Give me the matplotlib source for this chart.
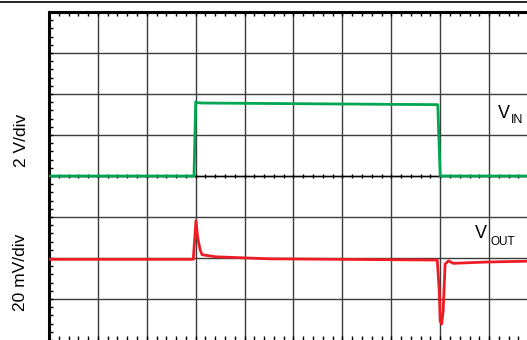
import matplotlib
matplotlib.use('agg')
import matplotlib.pyplot as plt
from matplotlib.lines import Line2D
import numpy as np

plt.rcParams['font.family'] = ['Liberation Sans', 'DejaVu Sans']

# time and level in scope divisions
vin_t = [0.0, 2.965, 3.0, 3.03, 3.12, 7.95, 8.0, 10.5]
vin_v = [4.0, 4.0, 5.81, 5.79, 5.78, 5.74, 4.0, 4.0]

vout_t = [0.0, 2.95, 3.006, 3.04, 3.09, 3.13, 3.4, 4.5, 7.94,
          7.98, 8.0, 8.03, 8.06, 8.1, 8.17, 8.27, 8.9, 10.5]
vout_v = [1.968, 1.968, 2.91, 2.5, 2.2, 2.08, 2.03, 1.98, 1.95,
          1.2, 0.45, 0.39, 0.7, 1.85, 1.93, 1.87, 1.90, 1.94]

W, H = 527, 340
fig = plt.figure(figsize=(W / 100, H / 100), dpi=100)
ax = fig.add_axes([49 / W, 0, 489 / W, 328 / H])
ax.set_xlim(0, 10)
ax.set_ylim(0, 8)

# grid
for x in range(1, 10):
    ax.axvline(x, color='#3c3c3c', lw=1.0, zorder=1)
for y in range(1, 8):
    ax.axhline(y, color='#3c3c3c', lw=1.0, zorder=1)

# ticks on border
ax.set_xticks(range(0, 11))
ax.set_yticks(range(0, 9))
ax.set_xticks(np.arange(0, 10.01, 0.2), minor=True)
ax.set_yticks(np.arange(0, 8.01, 0.2), minor=True)
ax.tick_params(which='both', direction='in', top=True, bottom=True,
               left=True, right=False, labelbottom=False, labelleft=False,
               length=3.2, width=1.0, color='black')
for s in ['right', 'bottom']:
    ax.spines[s].set_visible(False)
for s in ['left', 'top']:
    ax.spines[s].set_linewidth(2.2)

# center axis ticks
cx = np.arange(0, 10.01, 0.2)
ax.vlines(cx, 4 - 0.06, 4 + 0.06, color='black', lw=1.0, zorder=2)
ax.axhline(4, color='black', lw=1.0, zorder=2)

ax.plot(vin_t, vin_v, color='#00a650', lw=2.0, zorder=3)
ax.plot(vout_t, vout_v, color='#ee1c25', lw=2.0, zorder=3)

# channel labels
ax.text(9.18, 5.415, 'V', fontsize=13, va='baseline', ha='left')
ax.text(9.44, 5.29, 'IN', fontsize=9, va='baseline', ha='left')
ax.text(8.71, 2.488, 'V', fontsize=13, va='baseline', ha='left')
ax.text(9.03, 2.317, 'OUT', fontsize=8.5, va='baseline', ha='left')

fig.text(21 / W, 1 - 140 / H, '2 V/div', rotation=90, fontsize=12.5,
         ha='center', va='center')
fig.text(21 / W, 1 - 272 / H, '20 mV/div', rotation=90, fontsize=12.5,
         ha='center', va='center')

fig.add_artist(Line2D([0, 1], [1 - 2 / H, 1 - 2 / H], color='black', lw=1.2))

fig.savefig('out.png', dpi=100)
